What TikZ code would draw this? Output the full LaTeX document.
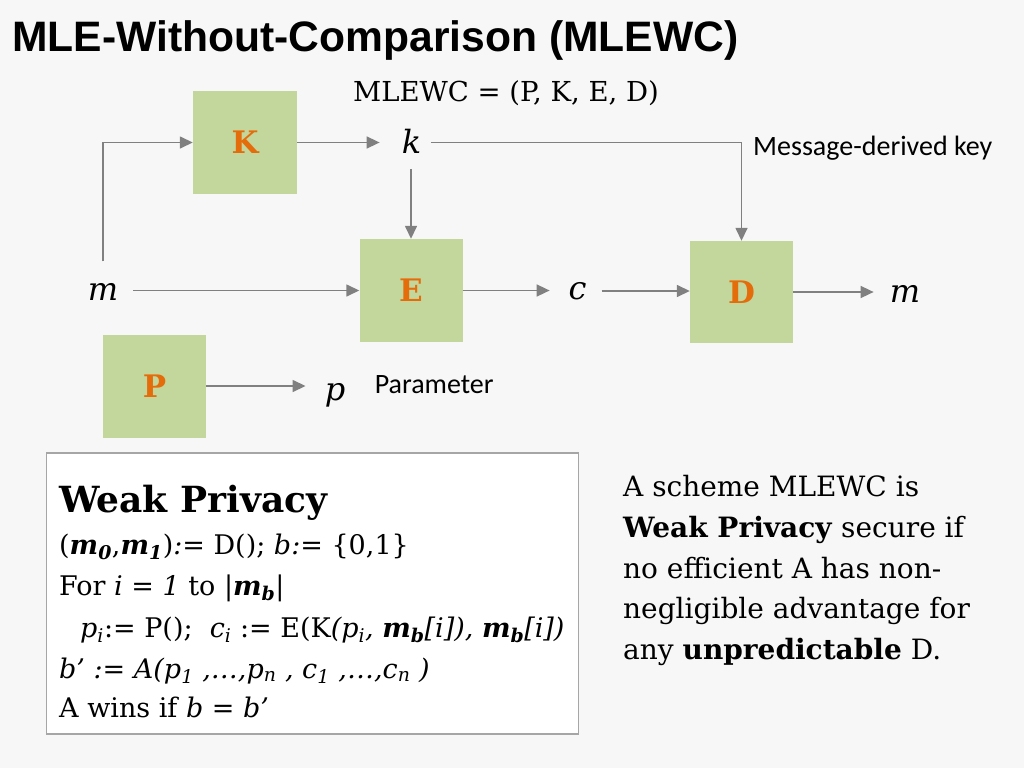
\documentclass[tikz,border=0pt]{standalone}
\usepackage{fontspec}
\setmainfont{DejaVu Serif}
\newfontfamily\titlefont{Liberation Sans}
\newfontfamily\calfont{Carlito}
\usetikzlibrary{arrows.meta,calc}
\definecolor{bg}{HTML}{F7F7F7}
\definecolor{boxgreen}{HTML}{C3D69B}
\definecolor{letorange}{HTML}{E46C0A}
\definecolor{arrowgray}{HTML}{808080}
\definecolor{framegray}{HTML}{A6A6A6}
\newcommand{\bmi}[1]{\textbf{\textit{#1}}}
\newcommand{\fs}[1]{\fontsize{#1}{#1}\selectfont}
\begin{document}
\begin{tikzpicture}[x=1pt,y=-1pt,
  blk/.style={draw=none,fill=boxgreen,minimum width=103pt,minimum height=103pt,inner sep=0pt,font=\fs{31}\bfseries,text=letorange},
  var/.style={inner sep=0pt,font=\fs{32}\itshape},
  conn/.style={draw=arrowgray,line width=1.5pt,-{Triangle[length=13pt,width=12pt]}},
  lbl/.style={inner sep=0pt,anchor=base west},
  boxtxt/.style={lbl,font=\fs{27}},
  sidetxt/.style={lbl,font=\fs{28}},
]
\useasboundingbox (0,0) rectangle (1024,768);
\fill[bg] (0,0) rectangle (1024,768);

% title
\node[lbl,font=\titlefont\bfseries\fs{42.6}] (title) at (12,52) {MLE-Without-Comparison (MLEWC)};
\node[inner sep=0pt,anchor=base,font=\fs{27.5}] (def) at (506,101) {MLEWC = (P, K, E, D)};

% blocks
\node[blk,minimum width=104pt] (K) at (245,142.5) {K};
\node[blk] (E) at (411,290.5) {E};
\node[blk,minimum height=102pt] (D) at (741.5,292) {D};
\node[blk] (P) at (154.5,386) {P};

% variables
\node[var] (mL) at (103,292) {m};
\node[var] (kk) at (411.5,141.5) {k};
\node[var] (cc) at (577.5,291) {c};
\node[var] (mR) at (905,294) {m};
\node[var] (pp) at (335,395) {p};

% labels
\node[lbl,font=\calfont\fs{28}] (mdk) at (753,155) {Message-derived key};
\node[lbl,font=\calfont\fs{28}] (par) at (374.6,393) {Parameter};

% connectors
\draw[conn] ([yshift=22pt]mL.north) |- (K.west);
\draw[conn] (K.east) -- ($(K.east -| kk.west)+(-22,0)$);
\draw[conn] ($(K.east -| kk.east)+(9.5,0)$) -| (D.north);
\draw[conn] ($(kk.south -| E.north)+(0,15)$) -- (E.north);
\draw[conn] ($(E.west -| mL.east)+(15,0)$) -- (E.west);
\draw[conn] (E.east) -- ($(E.east -| cc.west)+(-18.7,0)$);
\draw[conn] ($(cc.east)+(15,0)$) -- (cc.east -| D.west);
\draw[conn] (D.east) -- ($(D.east -| mR.west)+(-16,0)$);
\draw[conn] (P.east) -- ($(P.east -| pp.west)+(-19,0)$);

% weak privacy game
\node[draw=framegray,line width=1.5pt,fill=white,minimum width=532pt,minimum height=281pt,inner sep=0pt] (game) at (312.5,593.5) {};
\node[lbl,font=\fs{36}\bfseries] (l1) at (59,512) {Weak Privacy};
\node[boxtxt] (l2) at (59,554) {(\bmi{m}\textsubscript{\bmi{0}},\bmi{m}\textsubscript{\bmi{1}})\textit{:=} D(); \textit{b:=} \{0,1\}};
\node[boxtxt] (l3) at (59,595) {For \textit{i = 1} to |\bmi{m}\textsubscript{\bmi{b}}|};
\node[boxtxt] (l4) at (80,637) {\textit{p}\textsubscript{\textit{i}}:= P();\ \ \textit{c}\textsubscript{\textit{i}} := E(K\textit{(p}\textsubscript{\textit{i}}\textit{,} \bmi{m}\textsubscript{\bmi{b}}\textit{[i]),} \bmi{m}\textsubscript{\bmi{b}}\textit{[i])}};
\node[boxtxt] (l5) at (59,678) {\textit{b’ := A(p}\textsubscript{\textit{1}}\textit{ ,…,p}\textsubscript{\textit{n}}\textit{ , c}\textsubscript{\textit{1}}\textit{ ,…,c}\textsubscript{\textit{n}}\textit{ )}};
\node[boxtxt] (l6) at (59,717) {A wins if \textit{b} = \textit{b’}};

% side text
\node[sidetxt] (r1) at (623,496) {A scheme MLEWC is};
\node[sidetxt] (r2) at (623,537) {\textbf{Weak Privacy} secure if};
\node[sidetxt] (r3) at (623,578) {no efficient A has non-};
\node[sidetxt] (r4) at (623,618) {negligible advantage for};
\node[sidetxt] (r5) at (623,659) {any \textbf{unpredictable} D.};
\end{tikzpicture}
\end{document}
